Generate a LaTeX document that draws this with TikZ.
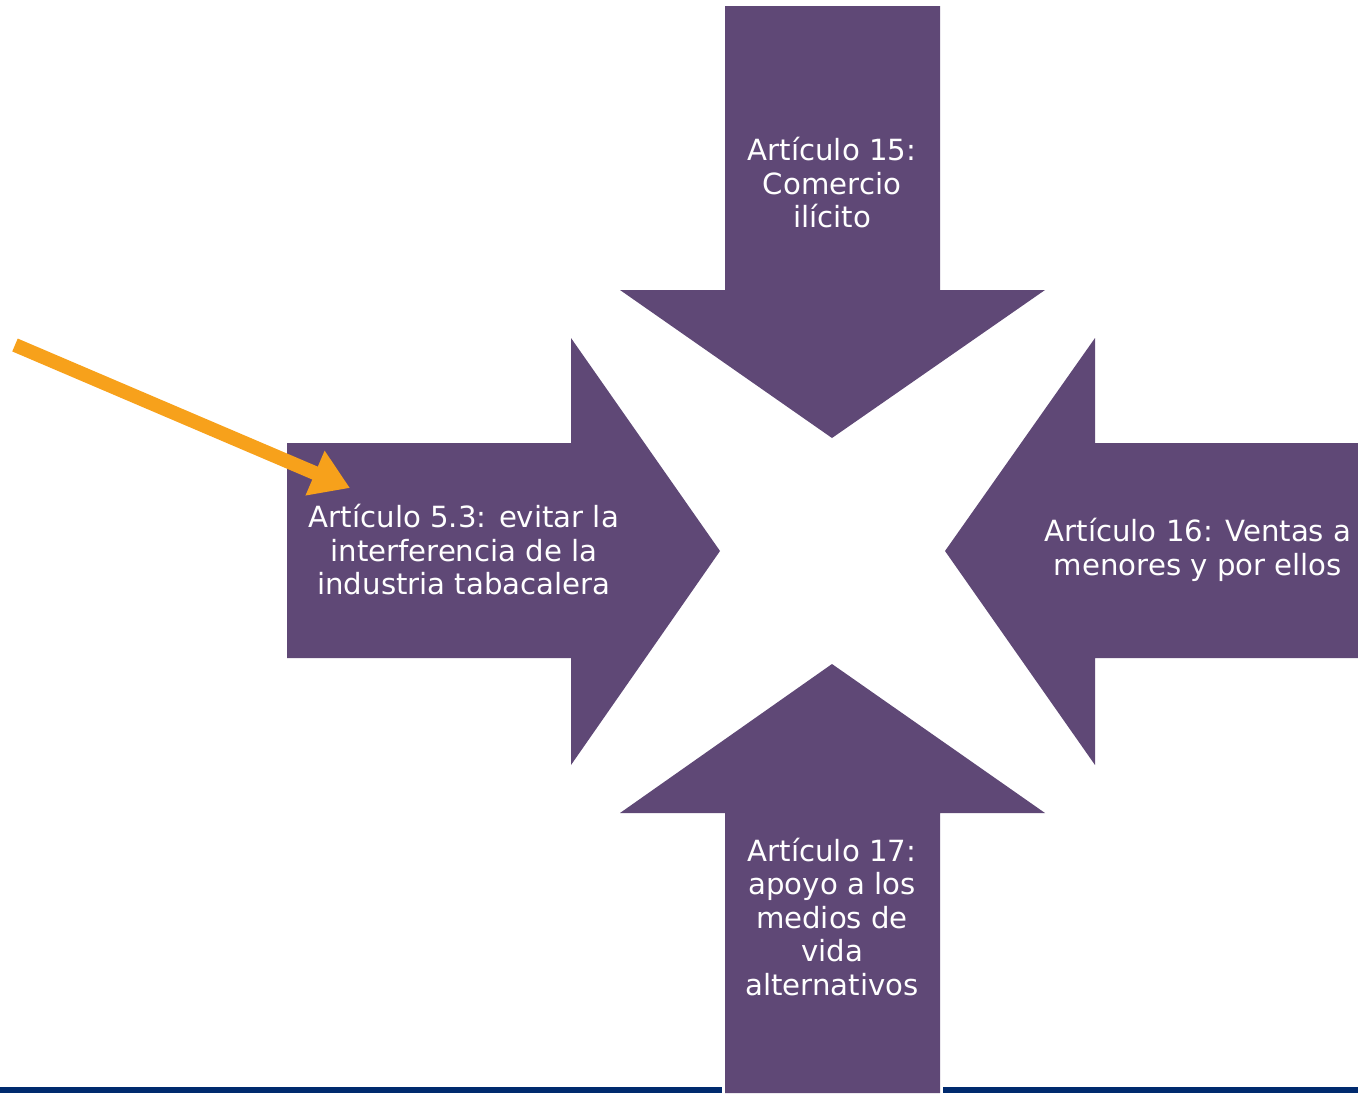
\documentclass[tikz,border=0pt]{standalone}
\usepackage{fontspec}
\setmainfont{DejaVu Sans}
\usetikzlibrary{arrows.meta}
\definecolor{arrpurple}{HTML}{5F4876}
\definecolor{navybar}{HTML}{002A6E}
\definecolor{orangearr}{HTML}{F7A11B}
\tikzset{
  bigarrow/.style={fill=arrpurple},
  lbl/.style={text=white, align=center, font=\fontsize{29.2}{33.5}\selectfont, inner sep=0pt},
  pointer/.style={draw=orangearr, line width=14pt, -{Triangle[length=38pt,width=46pt]}},
}
\begin{document}
\begin{tikzpicture}[x=1pt,y=-1pt]
\useasboundingbox (0,0) rectangle (1358,1093);
% bars
\fill[navybar] (0,1087) rectangle (722,1093);
\fill[navybar] (943,1087) rectangle (1358,1093);
% top arrow
\fill[bigarrow] (725,6) -- (940,6) -- (940,290) -- (1045,290) -- (832,438) -- (620,290) -- (725,290) -- cycle;
% bottom arrow
\fill[bigarrow] (725,1093) -- (940,1093) -- (940,813) -- (1045,813) -- (832,664) -- (620,813) -- (725,813) -- cycle;
% left arrow
\fill[bigarrow] (287,443) -- (571,443) -- (571,338) -- (720,551) -- (571,765) -- (571,658) -- (287,658) -- cycle;
% right arrow
\fill[bigarrow] (1358,443) -- (1095,443) -- (1095,338) -- (945,551) -- (1095,765) -- (1095,658) -- (1358,658) -- cycle;
% labels
\node[lbl] (t15) at (832,183) {Artículo 15:\\Comercio\\ilícito};
\node[lbl] (t53) at (464,550) {Artículo 5.3: evitar la\\interferencia de la\\industria tabacalera};
\node[lbl] (t16) at (1198,550) {Artículo 16: Ventas a\\menores y por ellos};
\node[lbl] (t17) at (832,917) {Artículo 17:\\apoyo a los\\medios de\\vida\\alternativos};
% orange pointer
\coordinate (ps) at (15,345);
\coordinate (pe) at (350,488);
\draw[pointer] (ps) -- (pe);
\end{tikzpicture}
\end{document}
